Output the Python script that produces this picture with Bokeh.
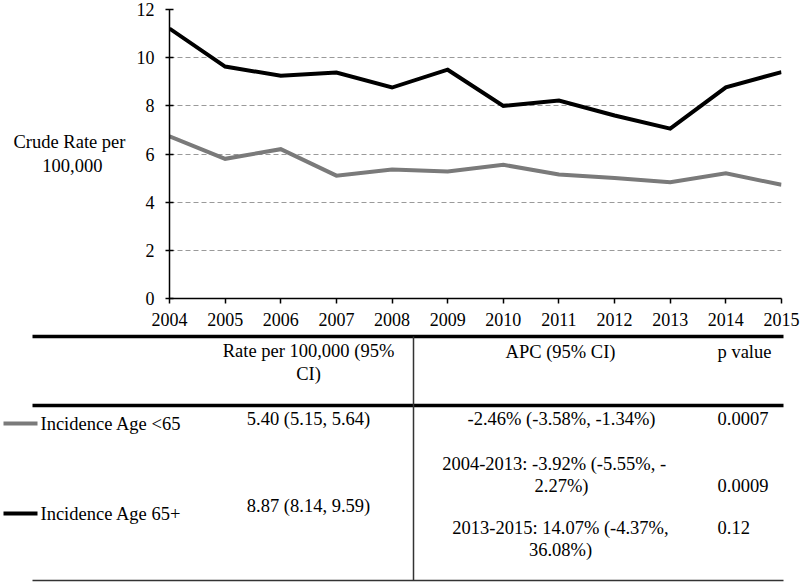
from bokeh.plotting import figure
from bokeh.layouts import column
from bokeh.models import Range1d, FixedTicker, ColumnDataSource
from bokeh.core.properties import value
from bokeh.embed import file_html
from bokeh.resources import INLINE

# ---------------- data ----------------
years = [2004, 2005, 2006, 2007, 2008, 2009, 2010, 2011, 2012, 2013, 2014, 2015]
rate_under65 = [6.73, 5.80, 6.20, 5.10, 5.36, 5.27, 5.55, 5.15, 5.00, 4.83, 5.20, 4.72]
rate_65plus = [11.21, 9.63, 9.25, 9.38, 8.76, 9.50, 8.00, 8.22, 7.60, 7.05, 8.77, 9.40]
y_ticks = [0, 2, 4, 6, 8, 10, 12]
y_label_lines = ["Crude Rate per", "100,000"]

series_names = ["Incidence Age <65", "Incidence Age 65+"]
series_colors = ["#7a7a7a", "#000000"]
header_rate = ["Rate per 100,000 (95%", "CI)"]
header_apc = ["APC (95% CI)"]
header_p = ["p value"]
rate_ci = ["5.40 (5.15, 5.64)", "8.87 (8.14, 9.59)"]
apc_lines = ["-2.46% (-3.58%, -1.34%)", "2004-2013:  -3.92% (-5.55%, -", "2.27%)",
             "2013-2015: 14.07% (-4.37%,", "36.08%)"]
p_values = ["0.0007", "0.0009", "0.12"]

FONT = "Liberation Serif, Times New Roman, Tinos, serif"
FS = "18.5px"

# ---------------- chart ----------------
p1 = figure(width=800, height=330, output_backend="svg", toolbar_location=None,
            x_range=Range1d(years[0], years[-1]), y_range=Range1d(0, 12),
            min_border_left=169, min_border_right=19, min_border_top=9, min_border_bottom=32)
p1.frame_align = False
p1.outline_line_color = None
p1.background_fill_color = "white"
p1.border_fill_color = "white"
p1.xgrid.grid_line_color = None
p1.ygrid.grid_line_color = "#9a9a9a"
p1.ygrid.grid_line_dash = "5 3"
p1.ygrid.grid_line_width = 1
p1.ygrid.ticker = FixedTicker(ticks=y_ticks)

p1.yaxis.ticker = FixedTicker(ticks=y_ticks)
p1.xaxis.ticker = FixedTicker(ticks=years)
for ax in (p1.xaxis, p1.yaxis):
    ax.axis_line_color = "black"
    ax.axis_line_width = 1.5
    ax.major_tick_line_color = "black"
    ax.major_tick_line_width = 1.5
    ax.minor_tick_line_color = None
    ax.major_label_text_font = FONT
    ax.major_label_text_font_size = "18px"
    ax.major_label_text_color = "black"
p1.yaxis.major_tick_in = 4
p1.yaxis.major_tick_out = 4
p1.yaxis.major_label_standoff = 11
p1.xaxis.major_tick_in = 0
p1.xaxis.major_tick_out = 5
p1.xaxis.major_label_standoff = 9

# horizontal, two-line axis label; second line padded with no-break spaces so it sits centred
p1.yaxis.axis_label = y_label_lines[0] + "\n" + y_label_lines[1] + "\u00a0" * 5
p1.yaxis.axis_label_orientation = "horizontal"
p1.yaxis.axis_label_text_font = FONT
p1.yaxis.axis_label_text_font_size = FS
p1.yaxis.axis_label_text_font_style = "normal"
p1.yaxis.axis_label_text_color = "black"
p1.yaxis.axis_label_standoff = 8

src = ColumnDataSource(dict(year=years, u65=rate_under65, o65=rate_65plus))
p1.line("year", "u65", source=src, line_color=series_colors[0], line_width=4, line_join="miter")
p1.line("year", "o65", source=src, line_color=series_colors[1], line_width=4, line_join="miter")

# ---------------- table ----------------
p2 = figure(width=800, height=254, output_backend="svg", toolbar_location=None,
            x_range=Range1d(0, 800), y_range=Range1d(584, 330),
            x_axis_location=None, y_axis_location=None,
            min_border_left=0, min_border_right=0, min_border_top=0, min_border_bottom=0)
p2.frame_align = False
p2.outline_line_color = None
p2.xgrid.visible = False
p2.ygrid.visible = False

# rules
p2.segment(x0=[32, 32], y0=[336, 405], x1=[783, 783], y1=[336, 405], line_color="black", line_width=3.5)
p2.segment(x0=[32], y0=[580], x1=[783], y1=[580], line_color="#333333", line_width=1.5)
p2.segment(x0=[413], y0=[336], x1=[413], y1=[580], line_color="#333333", line_width=1.5)

# legend swatches
p2.segment(x0=[3, 3], y0=[423, 513], x1=[37, 37], y1=[423, 513], line_color=series_colors, line_width=4)

def txt(xs, ys, texts, align):
    p2.text(x=xs, y=ys, text=texts, text_align=align, text_baseline="middle",
            text_font=value(FONT), text_font_size=value(FS), text_color="black")

txt([40, 40], [423, 513], series_names, "left")
txt([308, 308], [350, 373], header_rate, "center")
txt([560], [351], header_apc, "center")
txt([717], [351], header_p, "left")
txt([308, 308], [418, 505], rate_ci, "center")
txt([561, 556, 561, 560, 560], [418, 463, 485, 527, 549], apc_lines, "center")
txt([717, 717, 717], [418, 485, 527], p_values, "left")

layout = column(p1, p2, spacing=0)

open("out.html", "w").write(file_html(layout, INLINE))
